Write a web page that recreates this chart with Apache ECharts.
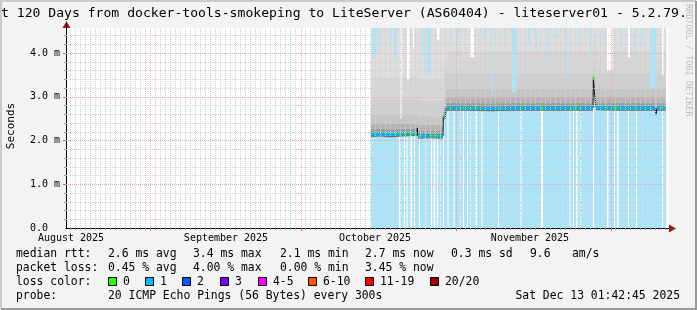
<!DOCTYPE html>
<html><head><meta charset="utf-8">
<script src="https://cdn.jsdelivr.net/npm/echarts@6/dist/echarts.min.js"></script>
<style>html,body{margin:0;padding:0;background:#f3f3f3}#c{width:697px;height:310px}</style>
</head><body><div id="c"></div>
<script>
// ---------------- data (x in days since start of 120-day window, y in ms) ----------------
const X_MAX = 120.6;
const Y_MAX = 4.57;
const yTickValues = [0, 1, 2, 3, 4];
const yMinorStep = 0.2;
const monthStartDays = [16.8, 46.94, 77.94, 108.94];
const monthLabelDays = [1.0, 32.0, 61.8, 92.8];
const monthLabels = ['August 2025', 'September 2025', 'October 2025', 'November 2025'];
const dataStartDay = 61.0, dataEndDay = 120.0;

// median rtt [day, ms]
const medianPts = [
  [61.0, 2.14], [63.0, 2.15], [65.0, 2.13], [67.0, 2.15], [70.2, 2.16], [70.26, 2.28], [70.4, 2.10],
  [72.5, 2.11], [75.4, 2.10], [75.46, 2.55], [75.9, 2.55], [76.0, 2.74], [80.0, 2.74], [85.0, 2.73],
  [90.0, 2.74], [95.0, 2.74], [100.0, 2.74], [105.4, 2.74], [105.46, 3.43], [105.6, 3.40],
  [105.8, 2.95], [106.0, 2.75], [110.0, 2.74], [117.8, 2.74], [118.0, 2.60], [118.2, 2.74], [120.0, 2.74]
];
// periods without packet loss [fromDay, toDay]
const lossFreeGaps = [
  [66.6, 67.0], [67.6, 67.8], [68.1, 68.3], [68.8, 69.2], [69.6, 69.8], [70.6, 70.8], [71.8, 72.0],
  [73.0, 73.2], [73.5, 73.9], [74.2, 74.4], [74.8, 75.0], [75.4, 75.6], [76.3, 76.5], [77.5, 77.7],
  [78.8, 79.0], [79.4, 79.6], [80.2, 80.4], [80.8, 81.0], [81.8, 82.2], [83.1, 83.3], [86.4, 86.6],
  [90.8, 91.1], [95.0, 95.4], [100.7, 101.0], [101.4, 101.6], [102.0, 102.3], [102.8, 103.0],
  [105.4, 105.6], [108.2, 108.5], [109.6, 109.8], [110.2, 110.5], [112.4, 112.6], [114.0, 114.2], [119.2, 119.4]
];
// smoke (ping spread) bands relative to median [lowOffset, highOffset] in ms
const smokeLow  = [-0.06, 0.00, 0.05, 0.12, 0.25, 0.45, 0.80, 1.30];
const smokeHigh = [ 0.00, 0.05, 0.12, 0.25, 0.45, 0.80, 1.30, 3.00];
const smokeGray = ['#6e6e6e', '#7c7c7c', '#9c9c9c', '#b4b4b4', '#c5c5c5', '#cfcfcf', '#d7d7d7', '#dedede'];
// columns where max ping stays below the top [day, widthDays, maxMs]
const smokeDips = [
  [61.2, 0.6, 3.9], [62.2, 0.4, 4.0], [64.8, 0.3, 4.2], [65.6, 0.5, 3.85], [66.8, 0.3, 2.5],
  [68.2, 0.5, 3.4], [69.4, 0.2, 4.1], [71.2, 0.3, 3.9], [72.2, 0.7, 3.5], [74.2, 0.5, 4.3],
  [76.8, 0.3, 4.3], [78.4, 0.2, 4.0], [80.8, 0.8, 3.9], [83.6, 0.3, 4.3], [85.2, 0.2, 3.0],
  [87.6, 0.2, 4.2], [89.2, 0.9, 3.1], [92.4, 0.3, 4.2], [94.0, 0.2, 4.0], [96.2, 0.3, 3.8],
  [98.2, 0.2, 4.3], [99.8, 0.4, 3.43], [102.4, 0.2, 4.1], [104.8, 0.3, 4.0], [107.2, 0.2, 4.2],
  [108.2, 1.1, 3.6], [111.0, 0.2, 4.2], [112.4, 0.4, 3.9], [113.6, 0.3, 3.9], [115.2, 0.3, 4.2],
  [116.8, 1.3, 3.2], [119.2, 0.3, 3.5]
];
// legend
const statsRtt  = ['2.6 ms avg', '3.4 ms max', '2.1 ms min', '2.7 ms now', '0.3 ms sd', '9.6', 'am/s'];
const statsLoss = ['0.45 % avg', '4.00 % max', '0.00 % min', '3.45 % now'];
const lossNames  = ['0', '1', '2', '3', '4-5', '6-10', '11-19', '20/20'];
const lossColors = ['#26ff00', '#00b8ff', '#0059ff', '#7e00ff', '#ff00ff', '#ff5500', '#ff0000', '#a10000'];
const probeText = '20 ICMP Echo Pings (56 Bytes) every 300s';
const dateText = 'Sat Dec 13 01:42:45 2025';
const titleText = 't 120 Days from docker-tools-smokeping to LiteServer (AS60404) - liteserver01 - 5.2.79.';

// ---------------- styles ----------------
const MONO = '"DejaVu Sans Mono", monospace';
const LOSS_BG = '#aae6fb';
const MINOR = '#cfcfcf';
const MAJOR = '#f4a6a6';

function medianAt(d) {
  for (let i = 1; i < medianPts.length; i++) {
    if (d <= medianPts[i][0]) {
      const [d0, v0] = medianPts[i - 1], [d1, v1] = medianPts[i];
      if (d1 === d0) return v1;
      return v0 + (v1 - v0) * (d - d0) / (d1 - d0);
    }
  }
  return medianPts[medianPts.length - 1][1];
}
function inGap(d0, d1) { return lossFreeGaps.some(g => d0 < g[1] && d1 > g[0]); }
const clampY = v => Math.max(0, Math.min(Y_MAX, v));

const chart = echarts.init(document.getElementById('c'), null, { renderer: 'canvas', width: 697, height: 310 });

function rectBetween(api, x0, x1, y0, y1, fill) {
  const p0 = api.coord([x0, y1]), p1 = api.coord([x1, y0]);
  return { type: 'rect', shape: { x: p0[0], y: p0[1], width: p1[0] - p0[0], height: p1[1] - p0[1] }, style: { fill: fill }, silent: true };
}

const series = [];
series.push({
  type: 'custom', z: 1, clip: false, silent: true,
  data: [[dataStartDay, dataEndDay]].concat(lossFreeGaps.map(g => [g[0], g[1]])),
  renderItem: (params, api) => rectBetween(api, api.value(0), api.value(1), 0, Y_MAX, params.dataIndex === 0 ? LOSS_BG : '#ffffff')
});
series.push({
  type: 'custom', z: 2, clip: false, silent: true,
  data: smokeLow.map((lo, i) => [lo, smokeHigh[i], i]),
  renderItem: (params, api) => {
    const lo = api.value(0), hi = api.value(1), idx = api.value(2);
    const top = medianPts.map(p => api.coord([p[0], clampY(p[1] + hi)]));
    const bot = medianPts.slice().reverse().map(p => api.coord([p[0], clampY(p[1] + lo)]));
    return { type: 'polygon', shape: { points: top.concat(bot) }, style: { fill: smokeGray[idx] }, silent: true };
  }
});
series.push({
  type: 'custom', z: 3, clip: false, silent: true,
  data: smokeDips,
  renderItem: (params, api) => {
    const d = api.value(0), w = api.value(1), m = api.value(2);
    return rectBetween(api, d, d + w, m, Y_MAX, inGap(d, d + w) ? '#ffffff' : LOSS_BG);
  }
});
series.push({
  type: 'line', z: 4, data: medianPts, symbol: 'none', silent: true,
  lineStyle: { color: '#111111', width: 1 }, animation: false
});
series.push({
  type: 'custom', z: 5, clip: false, silent: true,
  data: medianPts.slice(1).map((p, i) => [medianPts[i][0], medianPts[i][1], p[0], p[1]]),
  renderItem: (params, api) => {
    const d0 = api.value(0), v0 = api.value(1), d1 = api.value(2), v1 = api.value(3);
    if (Math.abs(v1 - v0) > 0.1 || d1 - d0 < 0.01) return null;
    const cuts = [d0, d1];
    lossFreeGaps.forEach(g => { if (g[0] > d0 && g[0] < d1) cuts.push(g[0]); if (g[1] > d0 && g[1] < d1) cuts.push(g[1]); });
    cuts.sort((a, b) => a - b);
    const children = [];
    for (let i = 0; i < cuts.length - 1; i++) {
      const a = cuts[i], b = cuts[i + 1];
      const pa = api.coord([a, medianAt(a)]), pb = api.coord([b, medianAt(b)]);
      children.push({ type: 'line', shape: { x1: pa[0], y1: pa[1], x2: pb[0], y2: pb[1] },
        style: { stroke: inGap(a, b) ? lossColors[0] : lossColors[1], lineWidth: 3 }, silent: true });
    }
    return { type: 'group', children };
  }
});
series.push({
  type: 'custom', z: 6, clip: false, silent: true,
  data: [[0]],
  renderItem: (params, api) => {
    const ch = [];
    const L = api.coord([0, 0]), R = api.coord([X_MAX, Y_MAX]);
    const x0 = L[0], y0 = L[1], x1 = R[0], y1 = R[1];
    const hl = (v, color, tick) => { const y = Math.round(api.coord([0, v])[1]) + 0.5;
      ch.push({ type: 'line', shape: { x1: x0 - tick, y1: y, x2: x0, y2: y }, style: { stroke: color === MAJOR ? '#e06060' : '#999', lineWidth: 1 } });
      ch.push({ type: 'line', shape: { x1: x0, y1: y, x2: x1 - 3, y2: y }, style: { stroke: color, lineWidth: 1, lineDash: [1, 1] } }); };
    const vl = (d, color, tick) => { const x = Math.round(api.coord([d, 0])[0]) + 0.5;
      ch.push({ type: 'line', shape: { x1: x, y1: y0, x2: x, y2: y0 + tick }, style: { stroke: color === MAJOR ? '#e06060' : '#999', lineWidth: 1 } });
      ch.push({ type: 'line', shape: { x1: x, y1: y0, x2: x, y2: y1 }, style: { stroke: color, lineWidth: 1, lineDash: [1, 1] } }); };
    for (let v = yMinorStep; v < Y_MAX; v += yMinorStep) {
      const r = Math.round(v * 10) / 10;
      if (yTickValues.indexOf(r) < 0) hl(r, MINOR, 2);
    }
    for (let d = monthStartDays[0] % 1; d < X_MAX - 0.5; d += 1) {
      if (!monthStartDays.some(m => Math.abs(m - d) < 0.5)) vl(d, MINOR, 2);
    }
    yTickValues.forEach(v => { if (v > 0) hl(v, MAJOR, 3); });
    monthStartDays.forEach(d => vl(d, MAJOR, 3));
    return { type: 'group', children: ch.map(c => Object.assign(c, { silent: true })) };
  }
});

const legendItems = [];
const rowY = [254, 268, 282, 296];
const LFONT = '11.4px ' + MONO;
function txt(x, y, s, align, font, color) {
  return { type: 'text', x: x, y: y, silent: true,
    style: { text: s, font: font || LFONT, fill: color || '#000', textAlign: align || 'left', textVerticalAlign: 'middle' } };
}
legendItems.push(txt(16, rowY[0], 'median rtt:'));
[108, 193, 280, 365, 451, 530, 572].forEach((x, i) => legendItems.push(txt(x, rowY[0], statsRtt[i])));
legendItems.push(txt(16, rowY[1], 'packet loss:'));
[108, 193, 280, 365].forEach((x, i) => legendItems.push(txt(x, rowY[1], statsLoss[i])));
legendItems.push(txt(16, rowY[2], 'loss color:'));
const swX = [108, 145, 182, 220, 258, 308, 365, 430];
lossNames.forEach((n, i) => {
  legendItems.push({ type: 'rect', silent: true, shape: { x: swX[i] + 0.5, y: rowY[2] - 4.5, width: 8, height: 8 },
    style: { fill: lossColors[i], stroke: '#000', lineWidth: 1 } });
  legendItems.push(txt(swX[i] + 15, rowY[2], n));
});
legendItems.push(txt(16, rowY[3], 'probe:'));
legendItems.push(txt(108, rowY[3], probeText));
legendItems.push(txt(680, rowY[3], dateText, 'right'));

const graphics = [
  { type: 'polyline', silent: true, shape: { points: [[1, 309], [1, 1], [696, 1]] }, style: { stroke: '#cbcbcb', lineWidth: 2, fill: null } },
  { type: 'polyline', silent: true, shape: { points: [[1, 309], [696, 309], [696, 1]] }, style: { stroke: '#999999', lineWidth: 2, fill: null } },
  txt(1, 14, titleText, 'left', '13.1px ' + MONO),
  { type: 'text', x: 688, y: 4, rotation: -Math.PI / 2, silent: true,
    style: { text: 'RRDTOOL / TOBI OETIKER', font: '8.5px ' + MONO, fill: '#bdbdbd', textAlign: 'left', textVerticalAlign: 'middle' } },
  { type: 'text', x: 11, y: 126, rotation: Math.PI / 2, silent: true,
    style: { text: 'Seconds', font: '11px ' + MONO, fill: '#000', textAlign: 'center', textVerticalAlign: 'middle' } },
  { type: 'polygon', silent: true, z: 100, shape: { points: [[669, 224.5], [676, 228.5], [669, 232.5]] }, style: { fill: '#9b1c1c' } },
  { type: 'polygon', silent: true, z: 100, shape: { points: [[62.5, 28], [66.5, 21], [70.5, 28]] }, style: { fill: '#9b1c1c' } },
  { type: 'line', silent: true, z: 100, shape: { x1: 66.5, y1: 28, x2: 66.5, y2: 23 }, style: { stroke: '#000', lineWidth: 1 } }
].concat(legendItems);

chart.setOption({
  animation: false,
  backgroundColor: '#f3f3f3',
  grid: { left: 66, right: 28, top: 28, bottom: 82, show: true, backgroundColor: '#ffffff', borderWidth: 0 },
  xAxis: {
    type: 'value', min: 0, max: X_MAX,
    axisLine: { show: true, lineStyle: { color: '#000', width: 1 } },
    axisTick: { show: false }, splitLine: { show: false },
    axisLabel: {
      customValues: monthLabelDays, margin: 5, color: '#000', fontFamily: MONO, fontSize: 10,
      formatter: v => { const i = monthLabelDays.findIndex(m => Math.abs(m - v) < 1e-6); return i >= 0 ? monthLabels[i] : ''; }
    }
  },
  yAxis: {
    type: 'value', min: 0, max: Y_MAX,
    axisLine: { show: true, lineStyle: { color: '#000', width: 1 } },
    axisTick: { show: false }, splitLine: { show: false },
    axisLabel: {
      customValues: yTickValues, margin: 6, color: '#000', fontFamily: MONO, fontSize: 10, align: 'right',
      formatter: v => v === 0 ? '0.0  ' : v.toFixed(1) + ' m'
    }
  },
  series: series,
  graphic: graphics
});
</script></body></html>
